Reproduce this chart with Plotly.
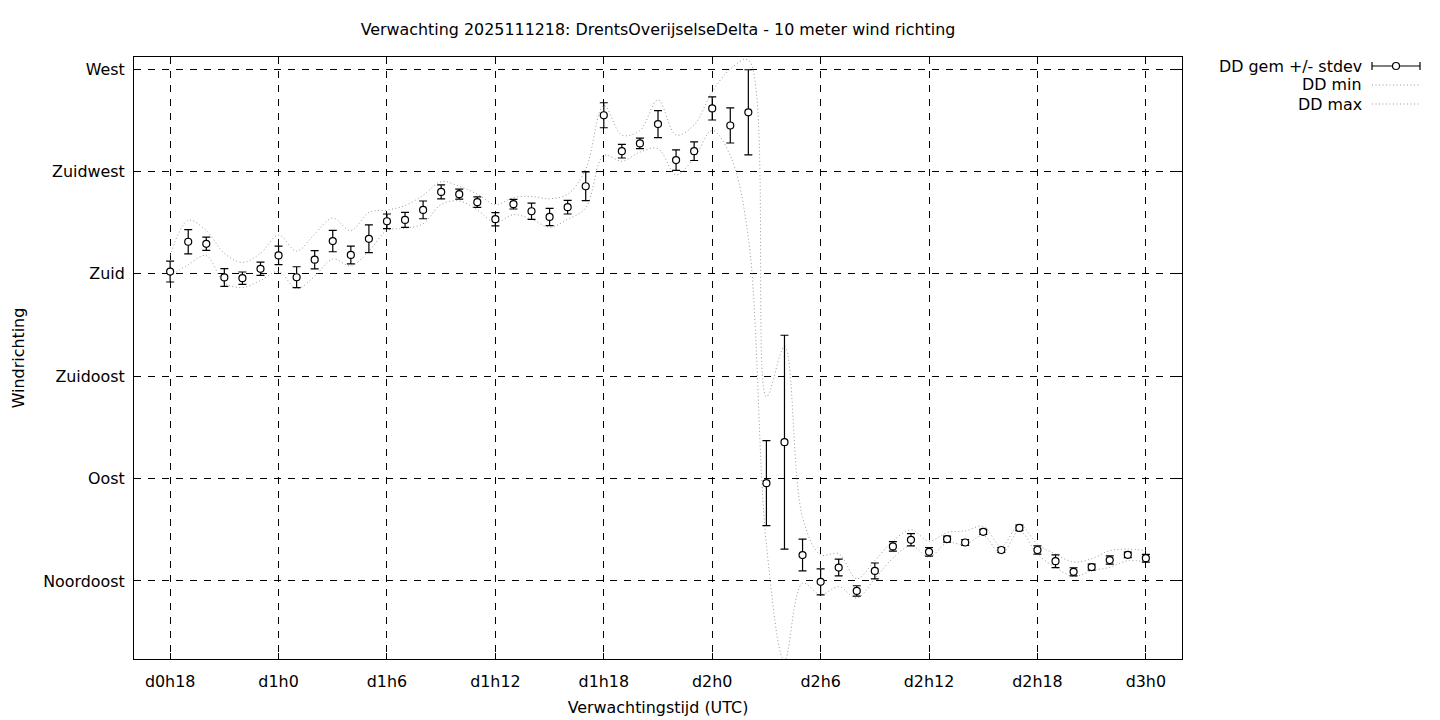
import plotly.graph_objects as go

# ---------------- data ----------------
hours = list(range(18, 73))  # forecast hour, d0h18 .. d3h0

dd_mean = [181.0, 194.1, 193.2, 178.4, 178.1, 182.2, 188.1, 178.5, 186.2, 194.4,
           188.3, 195.4, 203.1, 203.7, 208.1, 216.0, 215.0, 211.5, 204.0, 210.6,
           207.5, 205.0, 209.3, 218.5, 249.7, 233.9, 237.3, 245.8, 230.0, 233.9,
           252.7, 245.2, 251.0, 88.0, 106.0, 56.4, 44.6, 50.9, 40.6, 49.4,
           60.2, 63.1, 57.8, 63.4, 61.9, 66.6, 58.6, 68.3, 58.6, 53.7,
           49.0, 51.1, 54.2, 56.5, 55.0]

dd_std = [4.6, 5.3, 2.9, 3.9, 2.7, 2.9, 4.1, 4.6, 4.0, 4.7,
          3.9, 6.1, 3.2, 3.3, 3.9, 3.1, 2.2, 2.3, 2.9, 2.1,
          3.6, 3.8, 3.0, 6.3, 5.5, 3.0, 2.3, 5.9, 4.5, 4.1,
          5.1, 7.7, 18.7, 18.7, 47.0, 7.0, 5.7, 3.7, 2.3, 3.5,
          2.1, 2.7, 1.9, 1.3, 1.3, 1.1, 1.1, 1.2, 1.8, 2.8,
          1.8, 1.3, 1.8, 1.2, 1.7]

dd_min = [179.0, 184.0, 188.0, 176.0, 174.0, 177.0, 181.0, 173.5, 179.0, 186.5,
          183.5, 190.0, 199.0, 200.0, 202.0, 210.5, 212.0, 208.0, 202.5, 206.0,
          204.0, 200.5, 204.0, 209.0, 232.0, 229.5, 233.5, 235.0, 223.5, 231.0,
          243.0, 232.0, 196.0, 61.0, 10.0, 44.0, 39.0, 42.5, 37.5, 46.0,
          55.0, 60.5, 55.5, 61.8, 61.0, 65.0, 56.8, 67.0, 56.8, 51.0,
          47.0, 49.5, 51.0, 53.9, 53.3]

dd_max = [188.0, 203.5, 199.0, 189.0, 185.0, 189.0, 197.0, 190.0, 197.5, 204.5,
          199.0, 207.0, 208.0, 210.0, 214.5, 220.5, 218.5, 215.0, 210.5, 213.5,
          214.0, 213.0, 215.0, 226.0, 254.0, 241.0, 243.0, 256.5, 241.0, 245.5,
          260.0, 270.0, 274.0, 126.0, 148.0, 73.0, 56.5, 57.0, 46.0, 54.0,
          62.5, 67.5, 62.5, 66.3, 67.0, 69.0, 60.2, 69.7, 61.2, 56.8,
          53.3, 54.8, 58.3, 59.0, 58.3]

tick_hours = [18, 24, 30, 36, 42, 48, 54, 60, 66, 72]
tick_labels = ["d0h18", "d1h0", "d1h6", "d1h12", "d1h18",
               "d2h0", "d2h6", "d2h12", "d2h18", "d3h0"]

dir_values = [45, 90, 135, 180, 225, 270]
dir_labels = ["Noordoost", "Oost", "Zuidoost", "Zuid", "Zuidwest", "West"]

legend_names = ["DD gem +/- stdev", "DD min", "DD max"]

# ---------------- styling ----------------
FONT = "DejaVu Sans"
FS = 15.9
GREY = "#9a9a9a"
DOT = "1px,2.5px"
W, H = 1440, 720
L, R, T, B = 134, 258, 57, 61

fig = go.Figure()

fig.add_trace(go.Scatter(
    x=hours, y=dd_min, mode="lines", name=legend_names[1],
    line=dict(color=GREY, width=1, dash=DOT, shape="spline", smoothing=1.0),
    showlegend=False, hoverinfo="skip"))

fig.add_trace(go.Scatter(
    x=hours, y=dd_max, mode="lines", name=legend_names[2],
    line=dict(color=GREY, width=1, dash=DOT, shape="spline", smoothing=1.0),
    showlegend=False, hoverinfo="skip"))

fig.add_trace(go.Scatter(
    x=hours, y=dd_mean, mode="markers", name=legend_names[0],
    marker=dict(symbol="circle", size=7, color="white",
                line=dict(color="black", width=1.2)),
    error_y=dict(type="data", array=dd_std, visible=True,
                 color="black", thickness=1.2, width=4),
    showlegend=False))

grid_dash = "7px,7px"

fig.update_xaxes(
    range=[16, 74], tickmode="array", tickvals=tick_hours, ticktext=tick_labels,
    showgrid=True, gridcolor="black", gridwidth=1, griddash=grid_dash,
    showline=True, linecolor="black", linewidth=1, mirror="ticks",
    ticks="inside", ticklen=6, tickcolor="black", tickwidth=1,
    zeroline=False, ticklabelstandoff=8, automargin=False,
    title=dict(text="Verwachtingstijd (UTC)", standoff=11,
               font=dict(family=FONT, size=FS, color="black")),
    tickfont=dict(family=FONT, size=FS, color="black"))

fig.update_yaxes(
    range=[10.7, 275.3], tickmode="array", tickvals=dir_values, ticktext=dir_labels,
    showgrid=True, gridcolor="black", gridwidth=1, griddash=grid_dash,
    showline=True, linecolor="black", linewidth=1, mirror="ticks",
    ticks="inside", ticklen=6, tickcolor="black", tickwidth=1,
    zeroline=False, ticklabelstandoff=5, automargin=False,
    title=dict(text="Windrichting", standoff=14,
               font=dict(family=FONT, size=FS, color="black")),
    tickfont=dict(family=FONT, size=FS, color="black"))

# ---------------- gnuplot-style key (text right, sample on the right) ----------------
pw, ph = W - L - R, H - T - B
def px(xp):
    return (xp - L) / pw
def py(yp):
    return (H - B - yp) / ph

key_rows = [66, 85, 104]
text_right = 1364
s0, s1 = 1372, 1420
shapes = []
annotations = []
for name, row in zip(legend_names, key_rows):
    annotations.append(dict(
        x=px(text_right), y=py(row), xref="paper", yref="paper",
        text=name, showarrow=False, xanchor="right", yanchor="middle",
        font=dict(family=FONT, size=FS, color="black")))

# error-bar sample
r0 = key_rows[0]
shapes.append(dict(type="line", xref="paper", yref="paper",
                   x0=px(s0), x1=px(s1), y0=py(r0), y1=py(r0),
                   line=dict(color="black", width=1.2)))
for xe in (s0, s1):
    shapes.append(dict(type="line", xref="paper", yref="paper",
                       x0=px(xe), x1=px(xe), y0=py(r0 - 4), y1=py(r0 + 4),
                       line=dict(color="black", width=1.2)))
shapes.append(dict(type="circle", xref="paper", yref="paper",
                   xsizemode="pixel", ysizemode="pixel",
                   xanchor=px((s0 + s1) / 2), yanchor=py(r0),
                   x0=-3.5, x1=3.5, y0=-3.5, y1=3.5,
                   fillcolor="white", line=dict(color="black", width=1.2)))
for row in key_rows[1:]:
    shapes.append(dict(type="line", xref="paper", yref="paper",
                       x0=px(s0), x1=px(s1), y0=py(row), y1=py(row),
                       line=dict(color=GREY, width=1, dash=DOT)))

fig.update_layout(
    width=W, height=H,
    margin=dict(l=L, r=R, t=T, b=B, pad=0, autoexpand=False),
    paper_bgcolor="white", plot_bgcolor="white",
    font=dict(family=FONT, size=FS, color="black"),
    title=dict(text="Verwachting 2025111218: DrentsOverijselseDelta - 10 meter wind richting",
               x=(L + pw / 2) / W, xanchor="center", y=1 - 29 / H, yanchor="middle",
               font=dict(family=FONT, size=FS, color="black")),
    shapes=shapes, annotations=annotations,
    showlegend=False)

fig.write_html("out.html", config={"displayModeBar": False},
               post_script="document.body.style.margin='0';")
